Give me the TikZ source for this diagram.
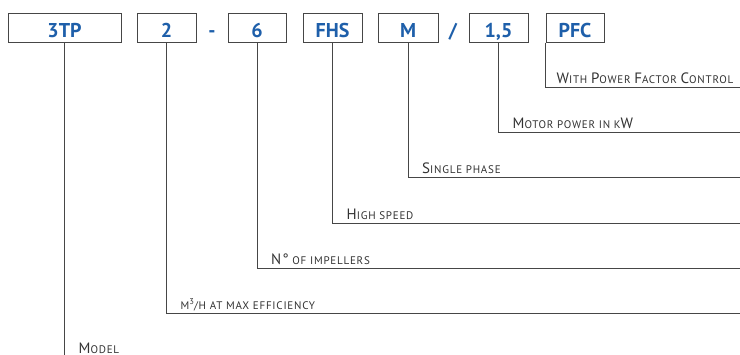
\documentclass[tikz,border=0pt]{standalone}
\usepackage{fontspec}
\setmainfont{PT Sans}
\newfontfamily\descfont[LetterSpace=7]{PT Sans}
\usepackage{tikz}
\usetikzlibrary{
    calc,
    positioning
}

\definecolor{codeblue}{RGB}{30,95,170}
\definecolor{linegray}{RGB}{70,70,70}
\definecolor{descgray}{RGB}{50,50,50}

\newcommand{\capl}[1]{{\fontsize{15}{15}\selectfont #1}}
\newcommand{\cubo}{\raisebox{5pt}{\fontsize{8.5}{8.5}\selectfont 3}}

\tikzset{
    codebox/.style={draw=linegray, line width=1pt, minimum height=29pt,
        inner sep=0pt, text height=19pt, text depth=0pt, text=codeblue,
        font=\fontsize{20}{20}\selectfont\bfseries},
    codesep/.style={inner sep=0pt, text height=19pt, text depth=0pt,
        text=codeblue, font=\fontsize{20}{20}\selectfont\bfseries},
    lead/.style={draw=linegray, line width=0.9pt},
    desc/.style={anchor=base west, inner sep=0pt, text=descgray,
        font=\descfont\fontsize{11}{11}\selectfont}
}

\begin{document}
\begin{tikzpicture}[x=1pt,y=-1pt]

\useasboundingbox (0,0) rectangle (740,354);
\clip (0,0) rectangle (740,354);

%====================================================
% Codice 3TP 2-6 FHS M/1,5 PFC
%====================================================

\node[codebox, minimum width=113pt] (model)  at (64.5,27.5)  {3TP};
\node[codebox, minimum width=59pt]  (flow)   at (166.5,27.5) {2};
\node[codesep]                      (dash)   at (212,27.5)   {-};
\node[codebox, minimum width=58pt]  (stages) at (257,27.5)   {6};
\node[codebox, minimum width=59pt]  (speed)  at (332.5,27.5) {FHS};
\node[codebox, minimum width=60pt]  (phase)  at (408,27.5)   {M};
\node[codesep]                      (slash)  at (453,27.5)   {/};
\node[codebox, minimum width=59pt]  (power)  at (498.5,27.5) {1,5};
\node[codebox, minimum width=58pt]  (pfc)    at (575,27.5)   {PFC};

%====================================================
% Estremi delle linee
%====================================================

\coordinate (pfcend)    at (740,87);
\coordinate (powerend)  at (740,132);
\coordinate (phaseend)  at (740,177);
\coordinate (speedend)  at (740,223);
\coordinate (stagesend) at (740,268);
\coordinate (flowend)   at (740,313);
\coordinate (modelend)  at (740,357);

%====================================================
% Linee e descrizioni
%====================================================

\draw[lead] (pfc.south west) |- (pfcend);
\node[desc] (pfclabel) at ($(pfc.south west |- pfcend)+(11,-3.5)$)
    {\capl{W}ITH \capl{P}OWER \capl{F}ACTOR \capl{C}ONTROL};

\draw[lead] (power.south) |- (powerend);
\node[desc] (powerlabel) at ($(power.south |- powerend)+(14,-3.5)$)
    {\capl{M}OTOR POWER IN K\capl{W}};

\draw[lead] (phase.south) |- (phaseend);
\node[desc] (phaselabel) at ($(phase.south |- phaseend)+(14,-3.5)$)
    {\capl{S}INGLE PHASE};

\draw[lead] (speed.south) |- (speedend);
\node[desc] (speedlabel) at ($(speed.south |- speedend)+(14,-3.5)$)
    {\capl{H}IGH SPEED};

\draw[lead] (stages.south) |- (stagesend);
\node[desc] (stageslabel) at ($(stages.south |- stagesend)+(14,-3.5)$)
    {\capl{N°} OF IMPELLERS};

\draw[lead] (flow.south) |- (flowend);
\node[desc] (flowlabel) at ($(flow.south |- flowend)+(14,-3.5)$)
    {M\cubo/H AT MAX EFFICIENCY};

\draw[lead] (model.south) |- (modelend);
\node[desc] (modellabel) at ($(model.south |- modelend)+(14,-3.5)$)
    {\capl{M}ODEL};

\end{tikzpicture}
\end{document}
